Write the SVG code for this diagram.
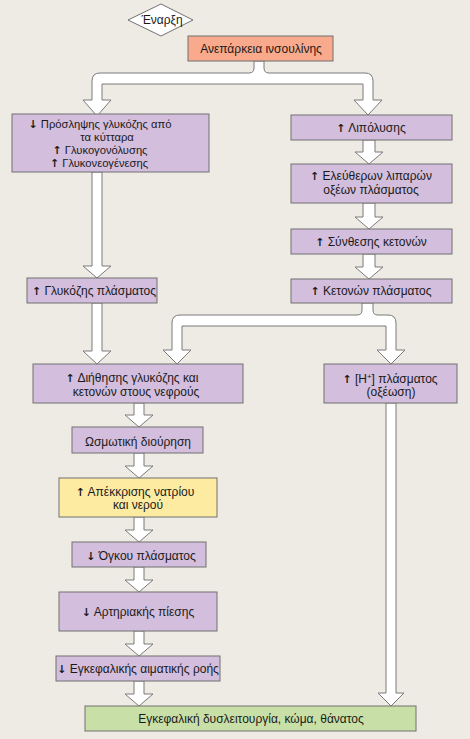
<svg xmlns="http://www.w3.org/2000/svg" width="470" height="739" viewBox="0 0 470 739">
<style>
text{font-family:"Liberation Sans",Arial,sans-serif;font-size:12px;fill:#1a1a1a;text-anchor:middle}
.a{font-family:"DejaVu Sans",sans-serif;font-weight:bold;font-size:11px}
.sm{font-size:11.2px}
.box{stroke:#707070;stroke-width:1}
.p{fill:#D3BEDD}
.arr{fill:#ffffff;stroke:#7a7a7a;stroke-width:1;stroke-linejoin:miter}
</style>
<rect x="0" y="0" width="470" height="739" fill="#EEEBE5"/>
<g id="connectors">
<path class="arr" d="M254,61 L254,68 Q254,73 249,73 L100,73 Q92,73 92,81 L92,100 L83,100 L97,116 L111,100 L102,100 L102,84 L363,84 L363,100 L354,100 L368,115 L382,100 L373,100 L373,81 Q373,73 365,73 L269,73 Q264,73 264,68 L264,61 Z"/>
<path class="arr" d="M92,172 L92,266 L83,266 L97,278 L111,266 L102,266 L102,172 Z"/>
<path class="arr" d="M92,303 L92,351 L83,351 L97,364 L111,351 L102,351 L102,303 Z"/>
<path class="arr" d="M363,140 L363,152 L355,152 L369,164 L383,152 L375,152 L375,140 Z"/>
<path class="arr" d="M363,203 L363,217 L355,217 L369,229 L383,217 L375,217 L375,203 Z"/>
<path class="arr" d="M363,254 L363,267 L355,267 L369,279 L383,267 L375,267 L375,254 Z"/>
<path class="arr" d="M362,303 L362,310 Q362,315 357,315 L180,315 Q172,315 172,323 L172,350 L163,350 L177,364 L191,350 L182,350 L182,326 L386,326 L386,350 L377,350 L391,364 L405,350 L396,350 L396,323 Q396,315 388,315 L378,315 Q373,315 373,310 L373,303 Z"/>
<path class="arr" d="M134,403 L134,415 L125,415 L139,427 L153,415 L144,415 L144,403 Z"/>
<path class="arr" d="M134,453 L134,466 L125,466 L139,478 L153,466 L144,466 L144,453 Z"/>
<path class="arr" d="M134,517 L134,530 L125,530 L139,542 L153,530 L144,530 L144,517 Z"/>
<path class="arr" d="M134,567 L134,580 L125,580 L139,592 L153,580 L144,580 L144,567 Z"/>
<path class="arr" d="M134,631 L134,644 L125,644 L139,656 L153,644 L144,644 L144,631 Z"/>
<path class="arr" d="M134,681 L134,694 L125,694 L139,706 L153,694 L144,694 L144,681 Z"/>
<path class="arr" d="M386,403 L386,693 L378,693 L391,706 L404,693 L396,693 L396,403 Z"/>
</g>
<g id="start">
<polygon points="128,20 161,4 193,20 161,36" fill="#ffffff" stroke="#707070"/>
<text x="162" y="24">Έναρξη</text>
</g>
<g id="insulin">
<rect class="box" x="188" y="36" width="145" height="25" fill="#F9AA8C"/>
<text x="261" y="53">Ανεπάρκεια ινσουλίνης</text>
</g>
<g id="uptake">
<rect class="box p" x="12" y="114" width="197" height="58"/>
<text class="sm" x="100" y="128"><tspan class="a">↓</tspan> Πρόσληψης γλυκόζης από</text>
<text class="sm" x="107" y="141">τα κύτταρα</text>
<text class="sm" x="100" y="154"><tspan class="a">↑</tspan> Γλυκογονόλυσης</text>
<text class="sm" x="99" y="167"><tspan class="a">↑</tspan> Γλυκονεογένεσης</text>
</g>
<g id="glucose">
<rect class="box p" x="27" y="278" width="130" height="25"/>
<text x="94" y="295"><tspan class="a">↑</tspan> Γλυκόζης πλάσματος</text>
</g>
<g id="lipolysis">
<rect class="box p" x="291" y="115" width="161" height="25"/>
<text x="371" y="132"><tspan class="a">↑</tspan> Λιπόλυσης</text>
</g>
<g id="ffa">
<rect class="box p" x="291" y="164" width="161" height="39"/>
<text x="371" y="180"><tspan class="a">↑</tspan> Ελεύθερων λιπαρών</text>
<text x="371" y="194">οξέων πλάσματος</text>
</g>
<g id="ketosynth">
<rect class="box p" x="291" y="229" width="161" height="25"/>
<text x="371" y="246"><tspan class="a">↑</tspan> Σύνθεσης κετονών</text>
</g>
<g id="ketones">
<rect class="box p" x="291" y="279" width="161" height="24"/>
<text x="371" y="295"><tspan class="a">↑</tspan> Κετονών πλάσματος</text>
</g>
<g id="filtration">
<rect class="box p" x="33" y="364" width="210" height="39"/>
<text x="132" y="382"><tspan class="a">↑</tspan> Διήθησης γλυκόζης και</text>
<text x="136" y="396">κετονών στους νεφρούς</text>
</g>
<g id="acid">
<rect class="box p" x="324" y="364" width="133" height="39"/>
<text x="390" y="383"><tspan class="a">↑</tspan> [H<tspan dy="-4" font-size="8">+</tspan><tspan dy="4">] πλάσματος</tspan></text>
<text x="391" y="396">(οξέωση)</text>
</g>
<g id="diuresis">
<rect class="box p" x="72" y="427" width="131" height="26"/>
<text x="138" y="446">Ωσμωτική διούρηση</text>
</g>
<g id="excretion">
<rect class="box" x="59" y="478" width="158" height="39" fill="#FDEBA2"/>
<text x="135" y="496"><tspan class="a">↑</tspan> Απέκκρισης νατρίου</text>
<text x="138" y="509">και νερού</text>
</g>
<g id="volume">
<rect class="box p" x="72" y="542" width="134" height="25"/>
<text x="141" y="560"><tspan class="a">↓</tspan> Όγκου πλάσματος</text>
</g>
<g id="pressure">
<rect class="box p" x="59" y="592" width="158" height="39"/>
<text x="138" y="616"><tspan class="a">↓</tspan> Αρτηριακής πίεσης</text>
</g>
<g id="flow">
<rect class="box p" x="56" y="656" width="164" height="25"/>
<text x="138" y="673"><tspan class="a">↓</tspan> Εγκεφαλικής αιματικής ροής</text>
</g>
<g id="outcome">
<rect class="box" x="85" y="706" width="331" height="25" fill="#C8E0A8"/>
<text x="251" y="723">Εγκεφαλική δυσλειτουργία, κώμα, θάνατος</text>
</g>
</svg>
